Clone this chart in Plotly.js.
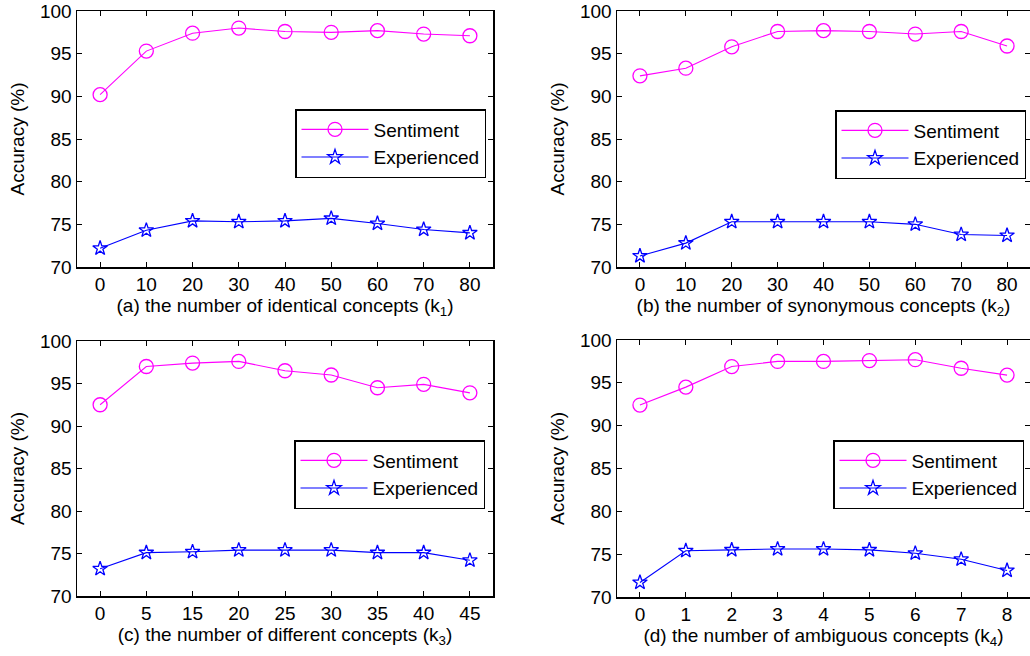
<!DOCTYPE html>
<html>
<head>
<meta charset="utf-8">
<script src="https://cdn.plot.ly/plotly-3.0.1.min.js"></script>
<style>html,body{margin:0;padding:0;background:#fff;}#chart{width:1030px;height:656px;}</style>
</head>
<body>
<div id="chart"></div>
<script>
// ---- data ----
const seriesNames = ['Sentiment', 'Experienced'];
const kA = ['0','10','20','30','40','50','60','70','80'];
const sentA = [90.2, 95.3, 97.4, 98.0, 97.6, 97.5, 97.7, 97.3, 97.1];
const expA  = [72.2, 74.3, 75.4, 75.3, 75.4, 75.7, 75.1, 74.4, 74.0];
const kB = ['0','10','20','30','40','50','60','70','80'];
const sentB = [92.4, 93.3, 95.8, 97.6, 97.7, 97.6, 97.3, 97.6, 95.9];
const expB  = [71.3, 72.8, 75.3, 75.3, 75.3, 75.3, 75.0, 73.8, 73.7];
const kC = ['0','5','15','20','25','30','35','40','45'];
const sentC = [92.5, 97.0, 97.4, 97.6, 96.5, 96.0, 94.5, 94.9, 93.9];
const expC  = [73.2, 75.1, 75.2, 75.4, 75.4, 75.4, 75.1, 75.1, 74.2];
const kD = ['0','1','2','3','4','5','6','7','8'];
const sentD = [92.4, 94.5, 96.9, 97.5, 97.5, 97.6, 97.7, 96.7, 95.9];
const expD  = [71.7, 75.4, 75.5, 75.6, 75.6, 75.5, 75.1, 74.4, 73.1];
const xTitles = [
  '(a) the number of identical concepts (k<sub>1</sub>)',
  '(b) the number of synonymous concepts (k<sub>2</sub>)',
  '(c) the number of different concepts (k<sub>3</sub>)',
  '(d) the number of ambiguous concepts (k<sub>4</sub>)'
];
const yTitle = 'Accuracy (%)';
const yTicks = [70, 75, 80, 85, 90, 95, 100];

// ---- build ----
const panels = [
  {k: kA, s: sentA, e: expA},
  {k: kB, s: sentB, e: expB},
  {k: kC, s: sentC, e: expC},
  {k: kD, s: sentD, e: expD}
];
const FONT = 'Liberation Sans, Arial, sans-serif';
const W = 1030, H = 656;
const boxes = [
  {x0: 77, x1: 493, y0: 11, y1: 267},
  {x0: 617, x1: 1030, y0: 11, y1: 267},
  {x0: 77, x1: 493, y0: 341, y1: 596},
  {x0: 617, x1: 1030, y0: 340, y1: 597}
];
const legendPos = [
  {x: 486, y: 109}, {x: 1026, y: 110}, {x: 485, y: 440}, {x: 1024, y: 440}
];

const traces = [];
const layout = {
  width: W, height: H,
  margin: {l: 0, r: 0, t: 0, b: 0},
  paper_bgcolor: '#fff', plot_bgcolor: '#fff',
  font: {family: FONT, size: 19, color: '#000'},
  showlegend: true
};

panels.forEach((p, i) => {
  const n = i + 1;
  const xa = n === 1 ? 'x' : 'x' + n;
  const ya = n === 1 ? 'y' : 'y' + n;
  const lg = n === 1 ? 'legend' : 'legend' + n;
  traces.push({
    x: p.k, y: p.s, xaxis: xa, yaxis: ya, legend: lg,
    name: seriesNames[0], type: 'scatter', mode: 'lines+markers',
    line: {color: '#FF00FF', width: 1.1},
    marker: {symbol: 'circle-open', size: 14, color: '#FF00FF', line: {width: 1.3, color: '#FF00FF'}}
  });
  traces.push({
    x: p.k, y: p.e, xaxis: xa, yaxis: ya, legend: lg,
    name: seriesNames[1], type: 'scatter', mode: 'lines+markers',
    line: {color: '#0000FF', width: 1.1},
    marker: {symbol: 'star-open', size: 11, color: '#0000FF', line: {width: 1.3, color: '#0000FF'}}
  });
  const b = boxes[i];
  const axCommon = {
    showline: true, linecolor: '#000', linewidth: 1.5, mirror: 'ticks',
    ticks: 'inside', ticklen: 5, tickwidth: 1, tickcolor: '#000',
    showgrid: false, zeroline: false,
    tickfont: {family: FONT, size: 19, color: '#000'}
  };
  layout[n === 1 ? 'xaxis' : 'xaxis' + n] = Object.assign({}, axCommon, {
    domain: [b.x0 / W, b.x1 / W], anchor: ya,
    type: 'category', range: [-0.5, 8.5],
    title: {text: xTitles[i], font: {family: FONT, size: 19, color: '#000'}, standoff: 4}
  });
  layout[n === 1 ? 'yaxis' : 'yaxis' + n] = Object.assign({}, axCommon, {
    domain: [1 - b.y1 / H, 1 - b.y0 / H], anchor: xa,
    range: [70, 100], tickvals: yTicks,
    title: {text: yTitle, font: {family: FONT, size: 19, color: '#000'}, standoff: 10}
  });
  layout[lg] = {
    x: legendPos[i].x / W, y: 1 - legendPos[i].y / H,
    xanchor: 'right', yanchor: 'top',
    bgcolor: '#fff', bordercolor: '#000', borderwidth: 1.5,
    font: {family: FONT, size: 19, color: '#000'},
    itemwidth: 67, tracegroupgap: 0
  };
});

Plotly.newPlot('chart', traces, layout, {displayModeBar: false, staticPlot: true});
</script>
</body>
</html>
